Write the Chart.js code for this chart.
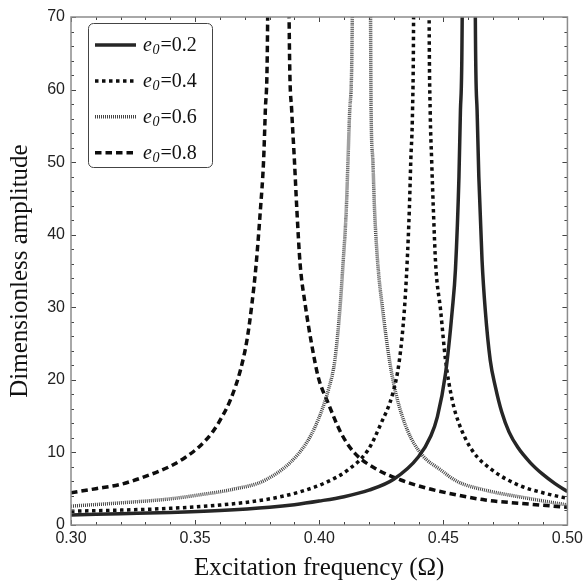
<!DOCTYPE html>
<html><head><meta charset="utf-8">
<script src="https://cdn.jsdelivr.net/npm/chart.js@4/dist/chart.umd.min.js"></script>
<style>html,body{margin:0;padding:0;background:#fff}canvas{display:block}</style>
</head><body>
<canvas id="c" width="587" height="583"></canvas>
<script>
// ---- data ----
const seriesLabels = ['0.2', '0.4', '0.6', '0.8'];
const xTickValues = [0.30, 0.35, 0.40, 0.45, 0.50];
const yTickValues = [0, 10, 20, 30, 40, 50, 60, 70];

const omegaE02 = [0.300,0.320,0.340,0.360,0.380,0.390,0.400,0.410,0.420,0.430,0.440,0.445,0.4476,0.4509,0.4536,0.4549,0.4563,0.4569,0.4576,0.4603,0.4629,0.4636,0.4643,0.4656,0.4669,0.4689,0.4710,0.4735,0.4765,0.4800,0.4850,0.4900,0.4950,0.500];
const ampE02   = [1.38, 1.55, 1.72, 2.00, 2.45, 2.80, 3.30, 3.90, 4.80, 6.30, 9.40, 12.3, 14.9, 20.9, 29.6, 35.3, 48.0, 57.2, 69.8, 400, 69.8, 57.2, 48.0, 36.5, 29.6, 22.7, 19.0, 15.6, 12.8, 10.7, 8.60, 7.00, 5.70, 4.60];

const omegaE04 = [0.300,0.320,0.340,0.360,0.3783,0.3916,0.4036,0.4116,0.4196,0.4249,0.4296,0.4323,0.4343,0.4354,0.4363,0.4369,0.4376,0.4380,0.4412,0.4443,0.4447,0.4453,0.4460,0.4469,0.4489,0.4509,0.4536,0.4563,0.4616,0.4696,0.4803,0.4909,0.500];
const ampE04   = [1.90, 2.05, 2.30, 2.75, 3.50, 4.50, 6.00, 7.60, 10.3, 14.0, 18.1, 22.7, 29.6, 36.0, 43.4, 50.3, 57.2, 68.9, 400, 68.9, 57.2, 50.3, 43.4, 36.0, 29.6, 22.7, 17.2, 14.0, 10.3, 7.60, 5.50, 4.37, 3.67];

const omegaE06 = [0.300,0.320,0.340,0.3516,0.3649,0.3783,0.3916,0.3983,0.4040,0.4063,0.4083,0.4096,0.4109,0.4116,0.4123,0.4133,0.4170,0.4207,0.4209,0.4216,0.4223,0.4236,0.4256,0.4283,0.4309,0.4356,0.4416,0.4489,0.4556,0.4669,0.4803,0.500];
const ampE06   = [2.60, 3.05, 3.60, 4.15, 4.90, 6.20, 9.80, 13.5, 19.0, 22.7, 29.6, 36.0, 43.4, 50.3, 57.2, 68.9, 400, 68.9, 57.2, 50.3, 43.4, 36.0, 29.6, 22.7, 18.1, 13.0, 9.60, 7.60, 6.00, 4.80, 3.90, 2.76];

const omegaE08 = [0.300,0.310,0.320,0.330,0.340,0.346,0.352,0.357,0.361,0.3643,0.3683,0.3709,0.3729,0.3745,0.3763,0.3776,0.3783,0.3792,0.3835,0.3879,0.3889,0.3900,0.3910,0.3923,0.3943,0.3969,0.3996,0.4036,0.4089,0.4143,0.4236,0.4329,0.4436,0.4556,0.4669,0.4803,0.500];
const ampE08   = [4.45, 5.00, 5.60, 6.70, 8.10, 9.30, 10.9, 12.8, 15.0, 17.3, 21.4, 25.5, 30.5, 35.6, 43.4, 50.3, 57.2, 68.9, 400, 68.9, 57.2, 50.3, 43.4, 36.0, 30.5, 25.0, 20.4, 16.8, 12.6, 9.90, 7.60, 6.20, 5.05, 4.13, 3.44, 3.00, 2.44];

const toPoints = (xs, ys) => xs.map((x, i) => ({x: x, y: ys[i]}));

const serif = '"Liberation Serif", "Times New Roman", serif';
const sans = '"Liberation Sans", Arial, sans-serif';

const frameTicks = {
  id: 'frameTicks',
  afterDatasetsDraw(chart) {
    const {ctx, chartArea: {left, right, top, bottom}, scales: {x, y}} = chart;
    ctx.save();
    ctx.strokeStyle = '#444';
    ctx.lineWidth = 1;
    ctx.beginPath();
    for (let i = 0; i <= 20; i++) {
      const v = 0.30 + i * 0.01;
      const px = Math.round(x.getPixelForValue(v)) + 0.5;
      const len = (i % 5 === 0) ? 5 : 3;
      ctx.moveTo(px, bottom); ctx.lineTo(px, bottom - len);
      ctx.moveTo(px, top); ctx.lineTo(px, top + len);
    }
    for (let j = 0; j <= 35; j++) {
      const v = j * 2;
      const py = Math.round(y.getPixelForValue(v)) + 0.5;
      const len = (j % 5 === 0) ? 5 : 3;
      ctx.moveTo(left, py); ctx.lineTo(left + len, py);
      ctx.moveTo(right, py); ctx.lineTo(right - len, py);
    }
    ctx.stroke();
    ctx.strokeStyle = '#8c8c8c';
    ctx.lineWidth = 1.5;
    ctx.strokeRect(left, top, right - left, bottom - top);
    ctx.restore();
  }
};

const legendBox = {
  id: 'legendBox',
  afterDraw(chart) {
    const ctx = chart.ctx;
    const ca = chart.chartArea;
    const bx = ca.left + 17, by = ca.top + 6, bw = 124, bh = 144;
    ctx.save();
    ctx.fillStyle = '#fff';
    ctx.strokeStyle = '#444';
    ctx.lineWidth = 1;
    ctx.beginPath();
    ctx.roundRect(bx + 0.5, by + 0.5, bw, bh, 5);
    ctx.fill(); ctx.stroke();
    chart.data.datasets.forEach((ds, i) => {
      const yy = by + 22 + i * 35.9;
      ctx.strokeStyle = ds.borderColor;
      ctx.lineWidth = ds.borderWidth;
      ctx.setLineDash(ds.borderDash || []);
      ctx.beginPath(); ctx.moveTo(bx + 7, yy); ctx.lineTo(bx + 48, yy); ctx.stroke();
      ctx.setLineDash([]);
      ctx.fillStyle = '#111';
      ctx.textBaseline = 'alphabetic';
      let tx = bx + 55;
      ctx.font = 'italic 20px ' + serif;
      ctx.fillText('e', tx, yy + 6);
      tx += ctx.measureText('e').width + 0.5;
      ctx.font = 'italic 14px ' + serif;
      ctx.fillText('0', tx, yy + 9);
      tx += ctx.measureText('0').width + 1;
      ctx.font = '20px ' + serif;
      ctx.fillText('=' + seriesLabels[i], tx, yy + 6);
    });
    ctx.restore();
  }
};

new Chart(document.getElementById('c'), {
  type: 'line',
  data: {
    datasets: [
      {label: 'e0=' + seriesLabels[0], data: toPoints(omegaE02, ampE02), borderColor: '#262626', borderWidth: 3.5, borderDash: []},
      {label: 'e0=' + seriesLabels[1], data: toPoints(omegaE04, ampE04), borderColor: '#0d0d0d', borderWidth: 3.5, borderDash: [3.5, 3.5]},
      {label: 'e0=' + seriesLabels[2], data: toPoints(omegaE06, ampE06), borderColor: '#444444', borderWidth: 3.5, borderDash: [1, 1]},
      {label: 'e0=' + seriesLabels[3], data: toPoints(omegaE08, ampE08), borderColor: '#0d0d0d', borderWidth: 3.5, borderDash: [6.5, 4]}
    ]
  },
  options: {
    responsive: false,
    animation: false,
    devicePixelRatio: 1,
    layout: {padding: {left: 0, right: 16, top: 17, bottom: 0}},
    elements: {
      point: {radius: 0, hoverRadius: 0},
      line: {cubicInterpolationMode: 'monotone', fill: false, borderCapStyle: 'butt'}
    },
    plugins: {legend: {display: false}, tooltip: {enabled: false}},
    scales: {
      x: {
        type: 'linear', min: 0.30, max: 0.50,
        afterBuildTicks: (s) => { s.ticks = xTickValues.map(v => ({value: v})); },
        afterFit: (s) => { s.height = 58; },
        grid: {display: false, drawTicks: false},
        border: {display: false},
        ticks: {padding: 4, color: '#222', font: {family: sans, size: 16}, maxRotation: 0, autoSkip: false,
                callback: (v) => Number(v).toFixed(2)},
        title: {display: true, text: 'Excitation frequency (Ω)', color: '#111', font: {family: serif, size: 25}, padding: {top: 0, bottom: 0}}
      },
      y: {
        type: 'linear', min: 0, max: 70,
        afterBuildTicks: (s) => { s.ticks = yTickValues.map(v => ({value: v})); },
        afterFit: (s) => { s.width = 71; },
        grid: {display: false, drawTicks: false},
        border: {display: false},
        ticks: {padding: 6, color: '#222', font: {family: sans, size: 16}, autoSkip: false},
        title: {display: true, text: 'Dimensionless amplitude', color: '#111', font: {family: serif, size: 25}, padding: {top: 5, bottom: 0}}
      }
    }
  },
  plugins: [frameTicks, legendBox]
});
</script>
</body></html>
